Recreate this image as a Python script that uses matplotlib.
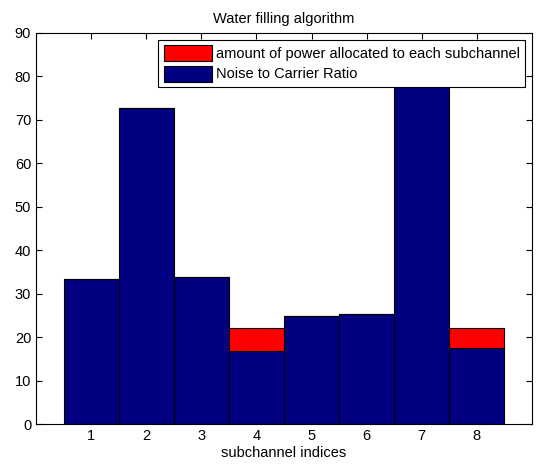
import matplotlib
matplotlib.use("Agg")
import matplotlib.pyplot as plt
import numpy as np

plt.rcParams['font.family'] = ['Liberation Sans', 'DejaVu Sans']

subchannels = [1, 2, 3, 4, 5, 6, 7, 8]
noise_to_carrier = [33.4, 72.7, 33.9, 16.9, 24.9, 25.4, 80.0, 17.4]
power_allocated = [0.0, 0.0, 0.0, 5.3, 0.0, 0.0, 0.0, 4.8]

fig = plt.figure(figsize=(5.37, 4.66), dpi=100)
ax = fig.add_axes([36/537, 42/466, (532-36)/537, (424-33)/466])

x = np.array(subchannels)
ax.bar(x, noise_to_carrier, width=1.0, color='#000080', edgecolor='black', linewidth=0.8,
       label='Noise to Carrier Ratio', zorder=2)
ax.bar(x, power_allocated, width=1.0, bottom=noise_to_carrier, color='#ff0000',
       edgecolor='black', linewidth=0.8, label='amount of power allocated to each subchannel', zorder=2)

ax.set_xlim(0, 9)
ax.set_ylim(0, 90)
ax.set_xticks(subchannels)
ax.set_yticks(np.arange(0, 91, 10))
ax.tick_params(direction='in', top=True, right=True, labelsize=10.5, length=4)
ax.set_xlabel('subchannel indices', fontsize=10.5, labelpad=2)
ax.set_title('Water filling algorithm', fontsize=10.5, pad=7)

handles, labels = ax.get_legend_handles_labels()
leg = ax.legend(handles[::-1], labels[::-1], loc='upper right', fontsize=10.5, fancybox=False,
                edgecolor='black', framealpha=1, borderaxespad=0.45, handlelength=3.3,
                handleheight=1.3, borderpad=0.4, labelspacing=0.3, handletextpad=0.25)
leg.get_frame().set_linewidth(0.8)
leg.set_zorder(5)

fig.savefig('out.png', dpi=100)
